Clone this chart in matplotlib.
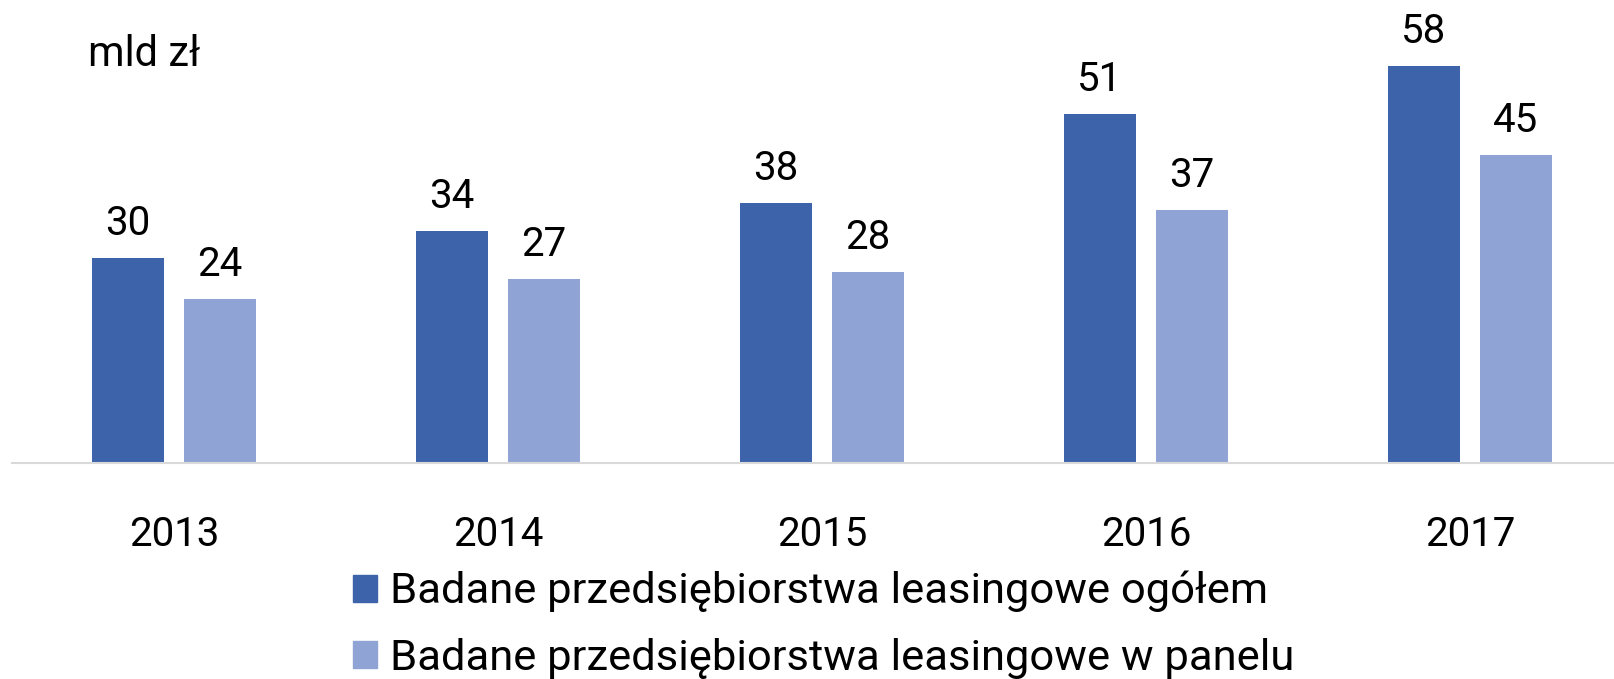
import numpy as np
import matplotlib.pyplot as plt
from matplotlib.patches import Patch

plt.rcParams["font.family"] = ["Roboto", "DejaVu Sans"]

# Data (mld zł)
years = ["2013", "2014", "2015", "2016", "2017"]
ogolem = [30, 34, 38, 51, 58]
panel = [24, 27, 28, 37, 45]
labels = ["Badane przedsiębiorstwa leasingowe ogółem",
          "Badane przedsiębiorstwa leasingowe w panelu"]

dark = "#3D64AB"
light = "#8FA4D4"

fig = plt.figure(figsize=(16.15, 6.79), dpi=100)
# axes runs a bit past the right edge, as in the original
ax = fig.add_axes([12 / 1615, 1 - 463.3 / 679, 1620 / 1615, 463.3 / 679])

x = np.arange(len(years))
w = 0.224
off = 0.142
b1 = ax.bar(x - off, ogolem, w, color=dark, label=labels[0])
b2 = ax.bar(x + off, panel, w, color=light, label=labels[1])

for bars, vals in [(b1, ogolem), (b2, panel)]:
    for r, v in zip(bars, vals):
        ax.annotate(str(v), (r.get_x() + r.get_width() / 2, v),
                    xytext=(0, 16.5), textcoords="offset points",
                    ha="center", va="baseline", fontsize=29, color="black",
                    annotation_clip=False)

ax.set_xlim(-0.5, 4.5)
ax.set_ylim(0, 67.7)
ax.set_yticks([])
ax.set_xticks(x, years, fontsize=29)
ax.tick_params(axis="x", length=0, pad=37)
for s in ["top", "right", "left"]:
    ax.spines[s].set_visible(False)
ax.spines["bottom"].set_color("#D9D9D9")
ax.spines["bottom"].set_linewidth(1.5)

fig.text(88 / 1615, 1 - 66 / 679, "mld zł", fontsize=30, va="baseline")

handles = [Patch(color=dark), Patch(color=light)]
fig.legend(handles, labels, loc="upper center", bbox_to_anchor=(0.51, 1 - 571 / 679),
           ncol=1, frameon=False, fontsize=31.3, handlelength=0.57, handleheight=0.57,
           handletextpad=0.3, labelspacing=0.58, borderpad=0, borderaxespad=0)

fig.savefig("out.png", dpi=100)
